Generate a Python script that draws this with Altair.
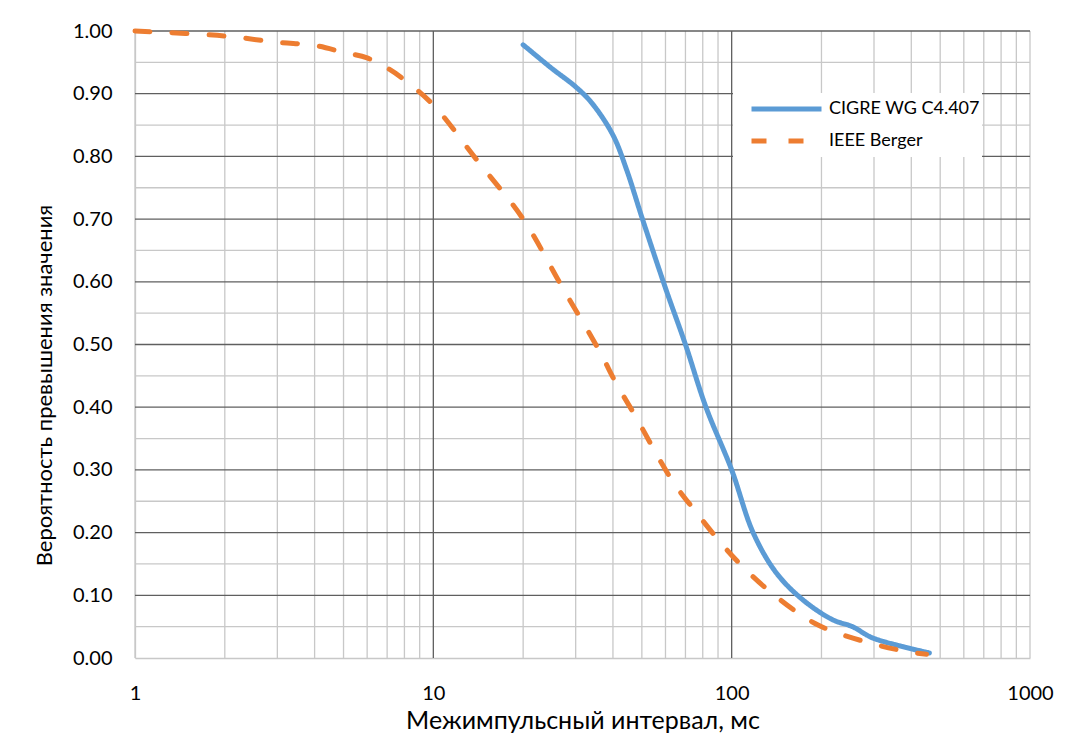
import altair as alt
import pandas as pd

# --- data ---
cigre_x = [20, 25, 30, 34, 40, 44.5, 50, 60, 70, 82, 100, 118, 141, 173, 218, 254, 297, 460]
cigre_y = [0.978, 0.94, 0.911, 0.885, 0.834, 0.778, 0.703, 0.59, 0.50, 0.40, 0.30, 0.20,
           0.136, 0.093, 0.061, 0.05, 0.032, 0.008]
ieee_x = [1, 2, 3, 4, 5, 6, 7, 8, 10, 14, 20, 27, 36, 41, 47, 63, 75, 100, 136, 194, 290, 390, 450]
ieee_y = [1.0, 0.992, 0.982, 0.977, 0.966, 0.957, 0.941, 0.922, 0.882, 0.794, 0.70, 0.592,
          0.49, 0.438, 0.39, 0.284, 0.236, 0.164, 0.104, 0.053, 0.024, 0.01, 0.006]
series_names = ["CIGRE WG C4.407", "IEEE Berger"]

x_ticks = [1, 10, 100, 1000]
y_ticks = [round(0.1 * i, 1) for i in range(11)]
x_major_grid = [10, 100]
x_minor_grid = [1, 2, 3, 4, 5, 6, 7, 8, 9, 20, 30, 40, 50, 60, 70, 80, 90,
                200, 300, 400, 500, 600, 700, 800, 900, 1000]
y_major_grid = [round(0.1 * i, 1) for i in range(1, 11)]
y_minor_grid = [round(0.05 + 0.1 * i, 2) for i in range(10)]

x_title = "Межимпульсный интервал, мс"
y_title = "Вероятность превышения значения"

df = pd.concat([
    pd.DataFrame({"x": cigre_x, "y": cigre_y, "s": series_names[0], "o": range(len(cigre_x))}),
    pd.DataFrame({"x": ieee_x, "y": ieee_y, "s": series_names[1], "o": range(len(ieee_x))}),
])

FONT = "Lato"
MINOR = "#c8c8c8"
MAJOR = "#5f5f5f"

xscale = alt.Scale(type="log", domain=[1, 1000], nice=False)
yscale = alt.Scale(domain=[0, 1], nice=False, zero=False)

x_axis = alt.Axis(values=x_ticks, format="d", title=x_title, grid=False, ticks=False,
                  tickSize=0, labelPadding=25, domainColor=MINOR,
                  domainWidth=1.3, labelFlush=False, titleFontSize=25,
                  titleY=70, titleBaseline="alphabetic")
y_axis = alt.Axis(values=y_ticks, format=".2f", title=y_title, grid=False, ticks=False,
                  tickSize=0, labelPadding=23, domainColor=MINOR,
                  domainWidth=1.3, labelFlush=False, titleFontSize=22,
                  titleX=-84, titleY=354, titleBaseline="alphabetic", titleAlign="center")

def vrules(vals, color):
    return alt.Chart(pd.DataFrame({"x": vals})).mark_rule(color=color, strokeWidth=1.3).encode(
        x=alt.X("x:Q", scale=xscale, axis=x_axis))

def hrules(vals, color):
    return alt.Chart(pd.DataFrame({"y": vals})).mark_rule(color=color, strokeWidth=1.3).encode(
        y=alt.Y("y:Q", scale=yscale, axis=y_axis))

grid = alt.layer(
    vrules(x_minor_grid, MINOR),
    hrules(y_minor_grid, MINOR),
    hrules(y_major_grid, MAJOR),
    vrules(x_major_grid, MAJOR),
)

leg = alt.Legend(title=None, orient="none", legendX=598, legendY=62,
                 fillColor="white", padding=2, symbolType="stroke",
                 symbolSize=4900, symbolStrokeWidth=5, symbolOffset=14,
                 labelFontSize=18, labelFont=FONT, labelColor="#000000", labelOffset=5,
                 clipHeight=28, rowPadding=4)

lines = alt.Chart(df).mark_line(strokeWidth=5, interpolate="catmull-rom", strokeCap="round").encode(
    x=alt.X("x:Q", scale=xscale, axis=x_axis),
    y=alt.Y("y:Q", scale=yscale, axis=y_axis),
    color=alt.Color("s:N", scale=alt.Scale(domain=series_names, range=["#5B9BD5", "#ED7D31"]),
                    legend=leg),
    strokeDash=alt.StrokeDash("s:N", scale=alt.Scale(domain=series_names, range=[[1, 0], [15, 22]]),
                              legend=leg),
    order="o:Q",
)

chart = alt.layer(grid, lines).properties(
    width=895, height=627,
    autosize=alt.AutoSizeParams(type="none"),
    padding={"left": 127, "top": 23, "right": 30, "bottom": 77},
    background="white",
).configure_view(stroke=None).configure_axis(
    labelFont=FONT, labelFontSize=20, labelColor="#000000",
    titleFont=FONT, titleColor="#000000", titleFontWeight="normal",
)

chart.save("out.html", embed_options={"renderer": "svg", "actions": False})
